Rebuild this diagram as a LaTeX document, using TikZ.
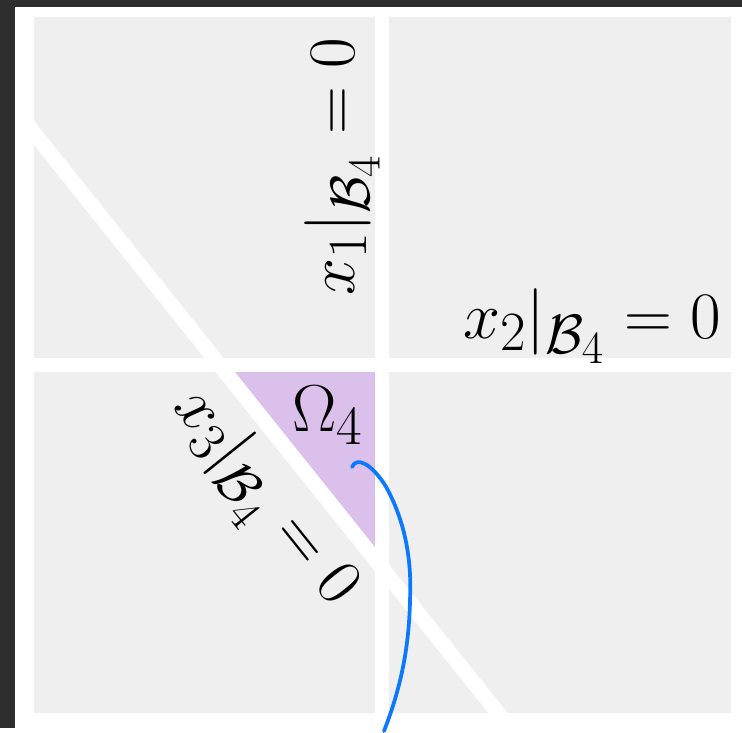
\documentclass[tikz,border=0pt]{standalone}
\usepackage{amsmath,amssymb}
\usetikzlibrary{positioning,calc}
\definecolor{marco}{HTML}{2E2E2E}
\definecolor{plano}{HTML}{EFEFEF}
\definecolor{lila}{HTML}{DCC0EC}
\definecolor{azul}{HTML}{0A78FF}

\begin{document}
\begin{tikzpicture}[x=0.02cm, y=-0.02cm,
  every node/.style={text=black, font=\Huge, scale=1.52},
  banda/.style={white, line width=0.28cm}]
\fill[marco] (0,0) rectangle (742,728);
\fill[white] (15,7) rectangle (742,728);

% ================= plano y region =================
\fill[plano] (34,17) rectangle (731,713);
\fill[lila] (219.6,365) -- (382,365) -- (382,568) -- cycle;

% ================= rectas =================
\draw[banda] (382,17) -- (382,713);
\draw[banda] (34,365) -- (731,365);
\draw[banda, line width=0.3cm] (24,120.5) -- (503.6,720);

% etiquetas
\node[rotate=90] (eqa) at (342,167) {$x_1|_{\mathcal{B}_4} = 0$};
\node (eqb) at (592,326) {$x_2|_{\mathcal{B}_4} = 0$};
\node[rotate=-51.3] (eqc) at (262,500) {$x_3|_{\mathcal{B}_4} = 0$};
\node (omega) at (328,415) {$\Omega_4$};

% ================= enlace =================
\coordinate (gancho) at (352,467);
\coordinate (fuera) at (384,731);
\draw[azul, line width=0.075cm, line cap=round] (gancho) .. controls (356,457) and (370,462) .. (385,485)
  .. controls (405,520) and (412,560) .. (410,600)
  .. controls (409,650) and (400,690) .. (fuera);
\end{tikzpicture}
\end{document}
